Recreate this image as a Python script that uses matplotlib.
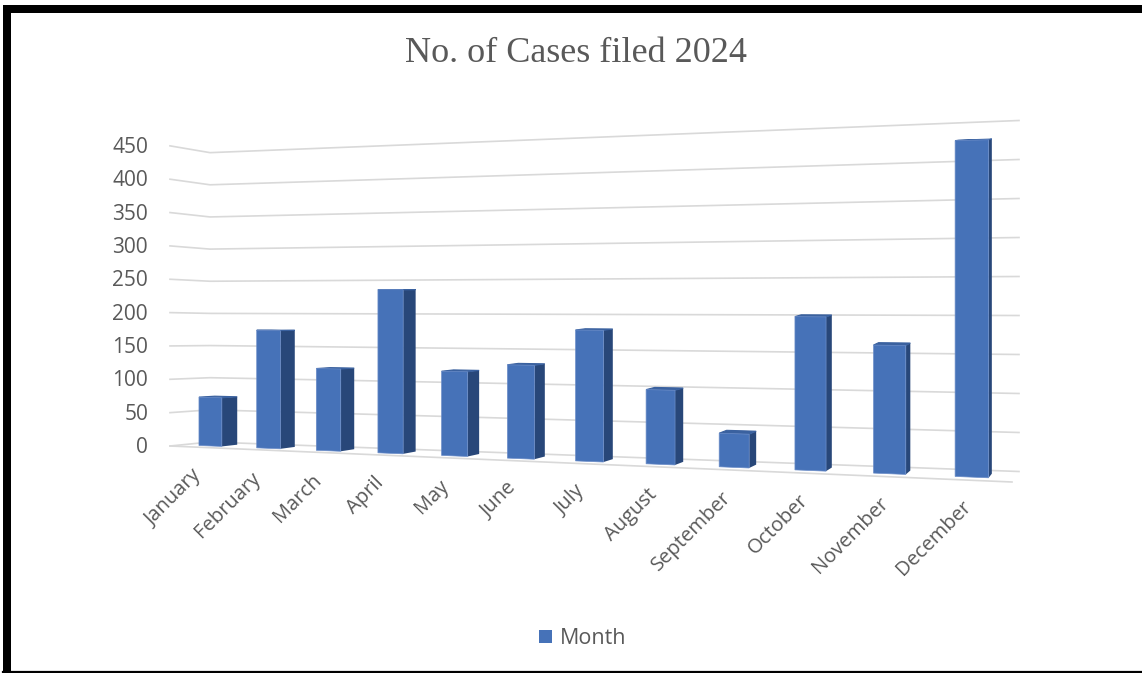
import matplotlib
matplotlib.use("Agg")
import matplotlib.pyplot as plt
from matplotlib.patches import Polygon, Rectangle

months = ["January", "February", "March", "April", "May", "June", "July",
          "August", "September", "October", "November", "December"]
cases = [73, 175, 120, 236, 120, 131, 181, 101, 45, 202, 166, 428]
y_ticks = [0, 50, 100, 150, 200, 250, 300, 350, 400, 450]
legend_label = "Month"
title = "No. of Cases filed 2024"

FRONT = "#4672B8"
SIDE = "#284779"
TOP = "#3A619F"
EDGE = "#6A8CC8"
GRID = "#D9D9D9"
TEXT = "#595959"

W, H = 1142, 673
KEEN = 0.188          # foreshortening along the category axis


def edge(u, x0, x1, y0, y1, s0, s1):
    """Point and height scale on a floor edge, with u measured in perspective."""
    t = (1 - KEEN) * u / (1 - KEEN * u)
    return x0 + t * (x1 - x0), y0 + t * (y1 - y0), s0 + t * (s1 - s0)


def project(slot, depth, value):
    """Map (category slot, depth 0-1, value) to canvas pixels."""
    u = slot / len(months)
    xf, yf, sf = edge(u, 170, 1012, 446, 482, 0.667, 0.80)
    xb, yb, sb = edge(u, 210, 1019, 442, 471.5, 0.643, 0.78)
    x = xf + depth * (xb - xf)
    y = yf + depth * (yb - yf)
    s = sf + depth * (sb - sf)
    return x, y - value * s


fig = plt.figure(figsize=(W / 100, H / 100), dpi=100, facecolor="white")
ax = fig.add_axes([0, 0, 1, 1])
ax.set_xlim(0, W)
ax.set_ylim(H, 0)
ax.axis("off")

# Frame around the chart
ax.add_patch(Rectangle((3, 5), W, 7.5, color="black", lw=0, zorder=6))
ax.add_patch(Rectangle((3, 5), 7.5, H, color="black", lw=0, zorder=6))
ax.plot([3, W], [671.5, 671.5], color="black", lw=1.6, zorder=6)

# Gridlines on the side wall and back wall, with the value labels
n_slots = len(months)
for v in y_ticks:
    a, b, c = project(0, 0, v), project(0, 1, v), project(n_slots, 1, v)
    ax.plot([a[0], b[0], c[0]], [a[1], b[1], c[1]], color=GRID, lw=1.2,
            zorder=1, solid_joinstyle="round")
    ax.text(148, a[1] + 1.5, str(v), ha="right", va="center", color=TEXT,
            fontsize=15, family="Open Sans")
# Front edge of the floor
a, b = project(0, 0, 0), project(n_slots, 0, 0)
ax.plot([a[0], b[0]], [a[1], b[1]], color=GRID, lw=1.2, zorder=1)

# Bars as three visible faces
GAP = 0.3
D0, D1 = 0.3, 0.7
for i, (name, val) in enumerate(zip(months, cases)):
    s0, s1 = i + GAP, i + 1 - GAP
    fl0, fr0 = project(s0, D0, 0), project(s1, D0, 0)
    fl1, fr1 = project(s0, D0, val), project(s1, D0, val)
    br0, br1 = project(s1, D1, 0), project(s1, D1, val)
    bl1 = project(s0, D1, val)
    ax.add_patch(Polygon([fr0, br0, br1, fr1], closed=True, fc=SIDE, ec="none", zorder=3))
    ax.add_patch(Polygon([fl1, fr1, br1, bl1], closed=True, fc=TOP, ec=TOP, lw=0.8, zorder=3))
    ax.add_patch(Polygon([fl0, fr0, fr1, fl1], closed=True, fc=FRONT, ec=EDGE, lw=0.5, zorder=4))
    # Category label ends just under the bar's lower centre
    lx, ly = project(i + 0.5, D0, 0)
    ax.text(lx - 12 + 0.8 * i, ly + 27, name, rotation=45, rotation_mode="anchor",
            ha="right", va="center", color=TEXT, fontsize=14.5, family="Open Sans")

ax.text(576, 54, title, ha="center", va="center", color=TEXT,
        fontsize=26, family="Liberation Serif")

# Legend
ax.add_patch(Rectangle((539, 630), 13, 13, fc=FRONT, ec="none"))
ax.text(560, 638, legend_label, ha="left", va="center", color=TEXT,
        fontsize=15.5, family="Open Sans")

fig.savefig("out.png", dpi=100)
